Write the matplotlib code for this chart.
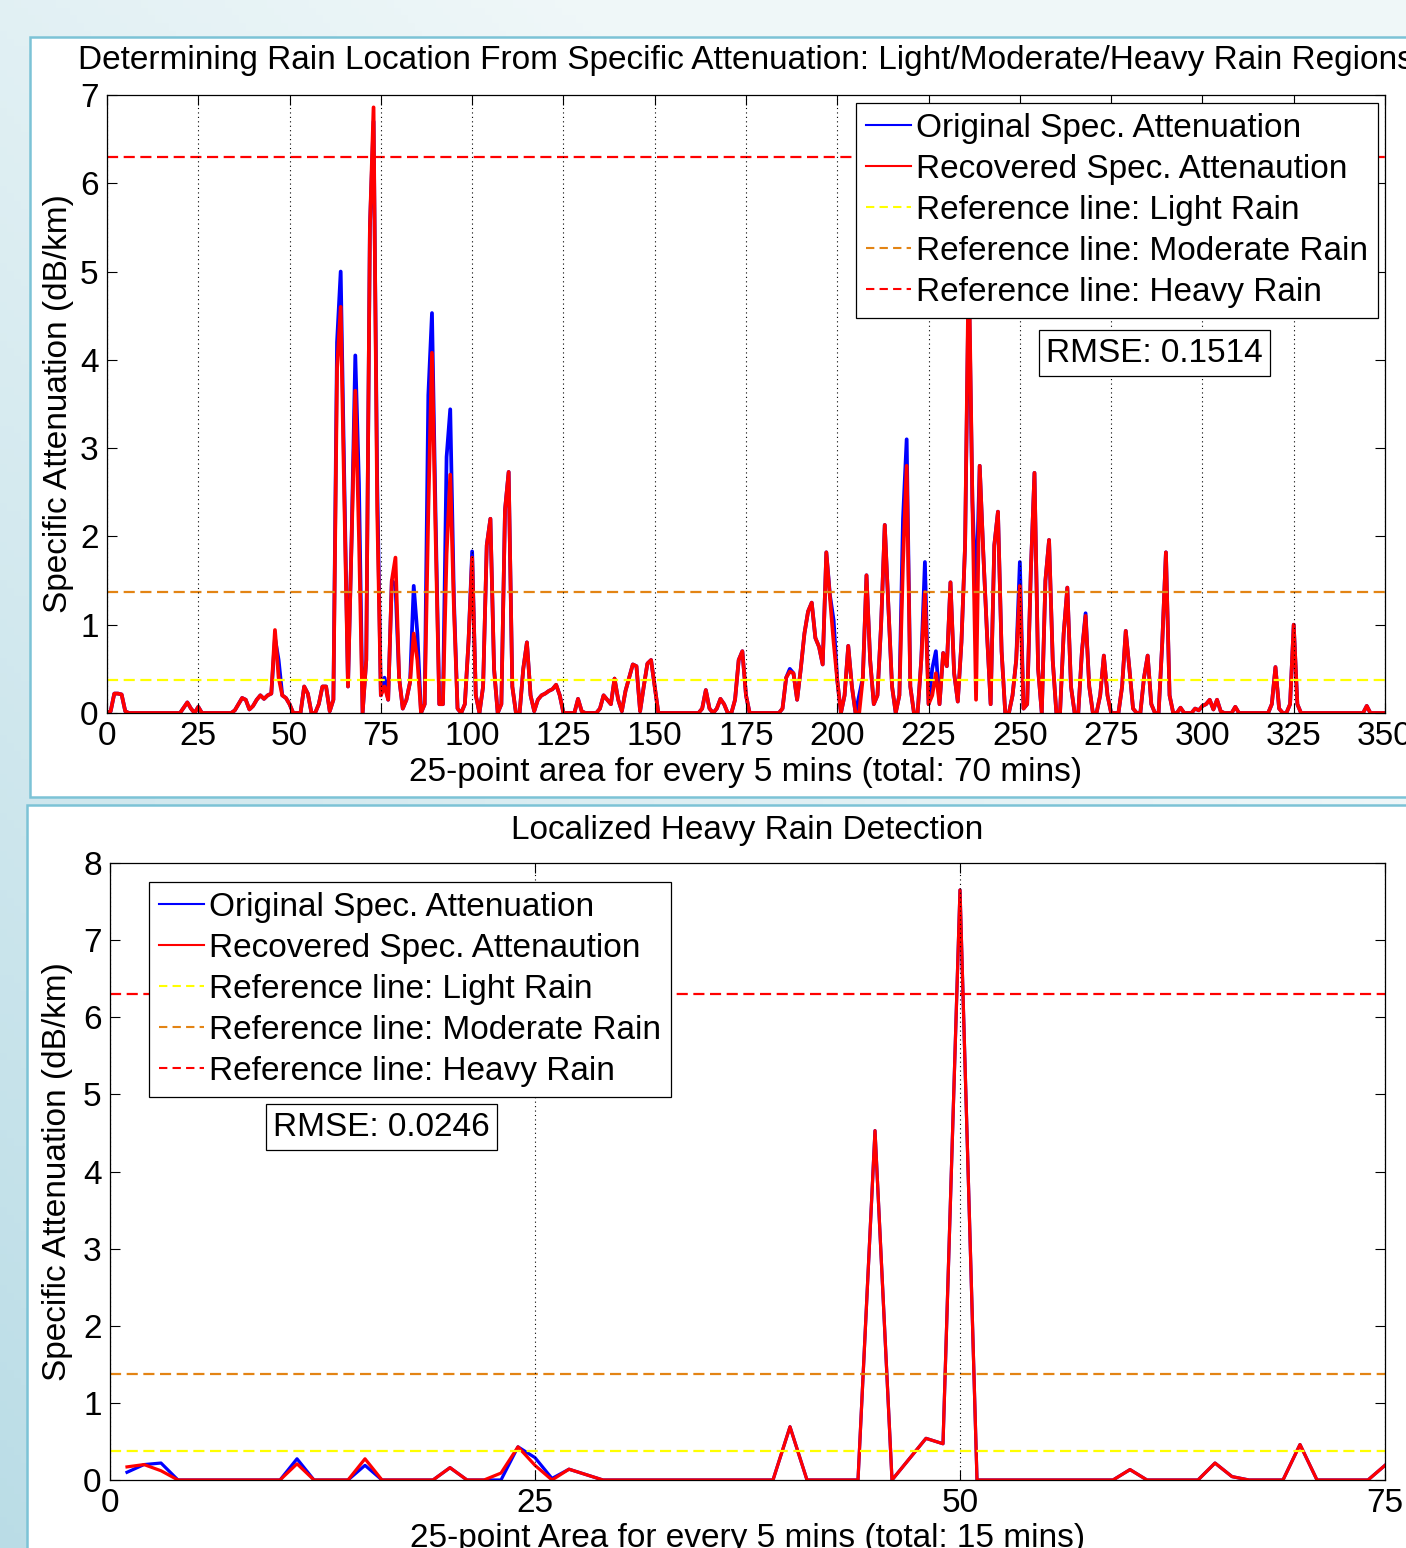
import numpy as np
import matplotlib
matplotlib.use('Agg')
import matplotlib.pyplot as plt
from matplotlib.lines import Line2D
from matplotlib.patches import Rectangle

plt.rcParams['font.family'] = ['Liberation Sans', 'DejaVu Sans']

# ---- top chart: 350 points, one row per 25-point (5 min) block
rec_top = [
    0, 0.02, 0.22, 0.22, 0.21, 0.02, 0, 0, 0, 0, 0, 0, 0, 0, 0, 0, 0, 0, 0, 0, 0, 0.06, 0.12, 0.05, 0,
    0.07, 0, 0, 0, 0, 0, 0, 0, 0, 0, 0.03, 0.1, 0.17, 0.15, 0.04, 0.08, 0.15, 0.2, 0.16, 0.2, 0.22, 0.94, 0.4, 0.2, 0.17,
    0.1, 0, 0, 0, 0.3, 0.22, 0, 0, 0.1, 0.3, 0.3, 0.02, 0.15, 3.9, 4.6, 2.4, 0.3, 2.0, 3.65, 2.0, 0, 0.6, 5.5, 6.86, 2.3,
    0.2, 0.3, 0.15, 1.5, 1.76, 0.4, 0.05, 0.15, 0.35, 0.9, 0.6, 0, 0.1, 2.3, 4.08, 2.0, 0.1, 0.1, 1.8, 2.7, 1.2, 0.05, 0, 0.1, 0.8,
    1.76, 0.2, 0, 0.3, 1.9, 2.2, 0.5, 0, 0.1, 2.3, 2.73, 0.3, 0, 0, 0.5, 0.8, 0.2, 0.02, 0.15, 0.2, 0.22, 0.25, 0.27, 0.32, 0.2,
    0, 0, 0, 0, 0.16, 0.02, 0, 0, 0, 0, 0.05, 0.2, 0.15, 0.1, 0.39, 0.15, 0.02, 0.25, 0.4, 0.55, 0.53, 0.02, 0.3, 0.56, 0.6,
    0.3, 0, 0, 0, 0, 0, 0, 0, 0, 0, 0, 0, 0, 0.05, 0.26, 0.05, 0, 0.05, 0.16, 0.1, 0, 0, 0.15, 0.6, 0.7,
    0.2, 0, 0, 0, 0, 0, 0, 0, 0, 0, 0.05, 0.4, 0.47, 0.45, 0.15, 0.5, 0.9, 1.15, 1.25, 0.85, 0.75, 0.55, 1.82, 1.3, 0.8,
    0.37, 0, 0.2, 0.76, 0.3, 0, 0, 0.4, 1.56, 0.6, 0.1, 0.2, 1.0, 2.13, 1.2, 0.3, 0, 0.2, 1.7, 2.8, 0.3, 0, 0, 0.6, 1.37,
    0.1, 0.2, 0.45, 0.1, 0.68, 0.53, 1.48, 0.45, 0.13, 0.8, 1.9, 5.2, 2.4, 0.15, 2.8, 1.8, 0.9, 0.1, 1.9, 2.28, 0.7, 0, 0, 0.2, 0.6,
    1.44, 0.05, 0.1, 1.6, 2.72, 0.5, 0, 1.5, 1.96, 0.6, 0, 0, 0.9, 1.42, 0.3, 0, 0, 0.7, 1.1, 0.3, 0, 0, 0.2, 0.65, 0.2,
    0, 0, 0, 0.3, 0.93, 0.5, 0.05, 0, 0, 0.4, 0.65, 0.1, 0, 0, 0.8, 1.82, 0.2, 0, 0, 0.06, 0, 0, 0, 0.05, 0.03,
    0.08, 0.1, 0.15, 0.04, 0.15, 0.02, 0, 0, 0, 0.07, 0, 0, 0, 0, 0, 0, 0, 0, 0, 0.1, 0.52, 0.05, 0, 0, 0.1,
    1.0, 0.1, 0, 0, 0, 0, 0, 0, 0, 0, 0, 0, 0, 0, 0, 0, 0, 0, 0, 0, 0.08, 0, 0, 0, 0,
    0,
]
# original series equals the recovered one except at these points
orig_top_idx = [46, 47, 63, 64, 65, 68, 69, 73, 74, 76, 79, 84, 85, 88, 89, 90, 93, 94, 95, 100,
                187, 198, 199, 206, 218, 219, 224, 226, 227, 236, 238, 250, 268]
orig_top_val = [0.85, 0.6, 4.2, 5.0, 2.6, 4.05, 2.6, 6.7, 2.6, 0.4, 1.45, 1.44, 0.9, 3.6, 4.53, 2.2, 2.9, 3.44, 1.3, 1.83,
                0.5, 1.33, 1.05, 0.2, 2.2, 3.1, 1.71, 0.5, 0.7, 5.0, 1.3, 1.71, 1.13]

# ---- bottom chart: 75 points
rec_bot = [
    0.17, 0.2, 0.12, 0, 0, 0, 0, 0, 0, 0, 0.21, 0, 0, 0, 0.275, 0, 0, 0, 0, 0.16, 0, 0, 0.09, 0.43, 0.19,
    0, 0.14, 0.07, 0, 0, 0, 0, 0, 0, 0, 0, 0, 0, 0, 0.69, 0, 0, 0, 0, 4.53, 0, 0.27, 0.54, 0.47, 7.65,
    0, 0, 0, 0, 0, 0, 0, 0, 0, 0.135, 0, 0, 0, 0, 0.22, 0.044, 0, 0, 0, 0.46, 0, 0, 0, 0, 0.19,
]
orig_bot_idx = [0, 1, 2, 10, 14, 22, 23, 24, 25]
orig_bot_val = [0.1, 0.2, 0.22, 0.275, 0.19, 0.0, 0.43, 0.29, 0.02]

ref_levels = [0.37, 1.375, 6.3]
ref_colors = ['#ffff00', '#e38414', '#ff0000']
labels = ['Original Spec. Attenuation', 'Recovered Spec. Attenaution',
          'Reference line: Light Rain', 'Reference line: Moderate Rain', 'Reference line: Heavy Rain']

x_top = np.arange(0, len(rec_top))
rec_top = np.array(rec_top)
orig_top = rec_top.copy()
orig_top[orig_top_idx] = orig_top_val

x_bot = np.arange(1, len(rec_bot) + 1)
rec_bot = np.array(rec_bot)
orig_bot = rec_bot.copy()
orig_bot[orig_bot_idx] = orig_bot_val

W, H = 1406, 1548
fig = plt.figure(figsize=(W / 100, H / 100), dpi=100)

# background gradient + white panels
bg = fig.add_axes([0, 0, 1, 1], zorder=-10)
gx, gy = np.meshgrid(np.linspace(0, 1, 200), np.linspace(0, 1, 200))
t = np.clip((1 - gx) * 0.6 + gy * 0.7 - 0.35, 0, 1)
c0 = np.array([0.94, 0.97, 0.975])
c1 = np.array([0.72, 0.86, 0.9])
img = c0 + (c1 - c0) * t[..., None]
bg.imshow(img, extent=[0, 1, 0, 1], aspect='auto', origin='upper')
bg.set_xlim(0, 1)
bg.set_ylim(0, 1)
bg.axis('off')
edge = '#7cc3d6'
bg.add_patch(Rectangle((30 / W, 1 - 797 / H), 1.2, (797 - 37) / H, facecolor='white', edgecolor=edge, lw=1.8))
bg.add_patch(Rectangle((27 / W, -0.1), 1.2, 0.1 + (1 - 805 / H), facecolor='white', edgecolor=edge, lw=1.8))

fs = 24
grid_style = dict(color='k', lw=0.8, linestyle=(0, (1, 3)))


def style_axes(ax):
    ax.tick_params(direction='in', length=7, width=0.8, top=True, right=True,
                   labelsize=fs, pad=6)
    for s in ax.spines.values():
        s.set_linewidth(0.9)
    ax.xaxis.grid(True, **grid_style)
    ax.set_axisbelow(False)


def add_legend(ax, loc, anchor):
    handles = [Line2D([], [], color='#0000ff', lw=1.5),
               Line2D([], [], color='#ff0000', lw=1.5)]
    for c in ref_colors:
        handles.append(Line2D([], [], color=c, lw=1.5, linestyle=(0, (4, 2.5))))
    leg = ax.legend(handles, labels, loc=loc, bbox_to_anchor=anchor, fontsize=fs,
                    frameon=True, fancybox=False, framealpha=1, edgecolor='k',
                    handlelength=1.35, handletextpad=0.15, borderaxespad=0,
                    labelspacing=0.3, borderpad=0.3)
    leg.get_frame().set_linewidth(0.9)


# top axes
ax1 = fig.add_axes([107 / W, 1 - 713 / H, 1278 / W, 618 / H])
ax1.plot(x_top, orig_top, color='#0000ff', lw=2.7)
ax1.plot(x_top, rec_top, color='#ff0000', lw=2.7)
for lev, c in zip(ref_levels, ref_colors):
    ax1.axhline(lev, color=c, lw=1.6, linestyle=(0, (5, 2.5)))
ax1.set_xlim(0, 350)
ax1.set_ylim(0, 7)
ax1.set_xticks(np.arange(0, 351, 25))
ax1.set_yticks(np.arange(0, 8, 1))
style_axes(ax1)
ax1.set_title('Determining Rain Location From Specific Attenuation: Light/Moderate/Heavy Rain Regions',
              fontsize=fs, pad=19)
ax1.set_xlabel('25-point area for every 5 mins (total: 70 mins)', fontsize=fs, labelpad=3)
ax1.set_ylabel('Specific Attenuation (dB/km)', fontsize=fs, labelpad=4)
add_legend(ax1, 'upper right', (0.9945, 0.987))
ax1.text(0.8196, 0.5825, 'RMSE: 0.1514', transform=ax1.transAxes, fontsize=fs,
         ha='center', va='center', zorder=6,
         bbox=dict(boxstyle='square,pad=0.22', facecolor='white', edgecolor='k', lw=0.9))

# bottom axes
ax2 = fig.add_axes([110 / W, 1 - 1480 / H, 1275 / W, 617 / H])
ax2.plot(x_bot, orig_bot, color='#0000ff', lw=2.3)
ax2.plot(x_bot, rec_bot, color='#ff0000', lw=2.3)
for lev, c in zip(ref_levels, ref_colors):
    ax2.axhline(lev, color=c, lw=1.6, linestyle=(0, (5, 2.5)))
ax2.set_xlim(0, 75)
ax2.set_ylim(0, 8)
ax2.set_xticks([0, 25, 50, 75])
ax2.set_yticks(np.arange(0, 9, 1))
style_axes(ax2)
ax2.set_title('Localized Heavy Rain Detection', fontsize=fs, pad=17)
ax2.set_xlabel('25-point Area for every 5 mins (total: 15 mins)', fontsize=fs, labelpad=3)
ax2.set_ylabel('Specific Attenuation (dB/km)', fontsize=fs, labelpad=7)
add_legend(ax2, 'upper left', (0.0306, 0.969))
ax2.text(0.213, 0.572, 'RMSE: 0.0246', transform=ax2.transAxes, fontsize=fs,
         ha='center', va='center', zorder=6,
         bbox=dict(boxstyle='square,pad=0.22', facecolor='white', edgecolor='k', lw=0.9))

plt.savefig('out.png', dpi=100)
